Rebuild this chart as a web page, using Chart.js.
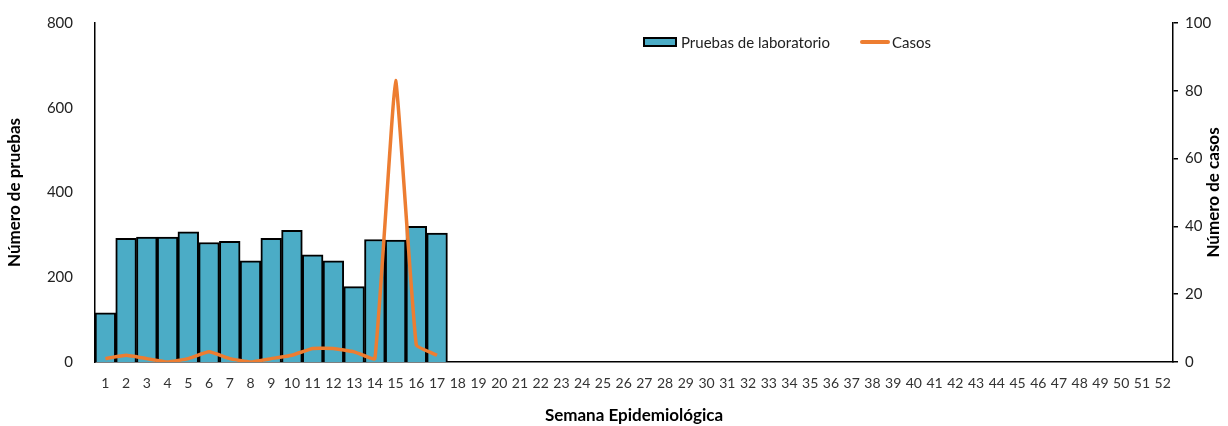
<!DOCTYPE html>
<html>
<head>
<meta charset="utf-8">
<script src="https://cdn.jsdelivr.net/npm/chart.js@4"></script>
<style>
  body { margin: 0; background: #fff; }
  #wrap { position: relative; width: 1228px; height: 426px; }
  #legend { position: absolute; top: 33px; left: 643px; font-family: Lato, "Open Sans", sans-serif; font-size: 15px; color: #222; display: flex; align-items: center; }
  .sw-bar { display: inline-block; width: 34px; height: 10px; background: #4BACC6; border: 2px solid #000; box-sizing: border-box; margin-right: 4px; }
  .sw-line { display: inline-block; width: 30px; height: 4px; background: #ED7D31; margin: 0 2px 0 30px; border-radius: 2px; }
</style>
</head>
<body>
<div id="wrap">
  <canvas id="chart" width="1228" height="426"></canvas>
  <div id="legend"><span class="sw-bar"></span>Pruebas de laboratorio<span class="sw-line"></span>Casos</div>
</div>
<script>
const semanas = Array.from({ length: 52 }, (_, i) => String(i + 1));
const pruebas = [116, 292, 295, 295, 307, 282, 285, 239, 292, 311, 253, 239, 178, 289, 288, 320, 304];
const casos = [1, 2, 1, 0, 1, 3, 1, 0, 1, 2, 4, 4, 3, 1, 83, 5, 2];

const fuente = 'Lato, "Open Sans", sans-serif';

// titulo del eje derecho leido de abajo hacia arriba, como en Excel
const tituloDerecho = {
  id: 'tituloDerecho',
  afterDraw(chart) {
    const c = chart.ctx;
    const area = chart.chartArea;
    c.save();
    c.translate(1214, (area.top + area.bottom) / 2);
    c.rotate(-Math.PI / 2);
    c.font = 'bold 17px ' + fuente;
    c.fillStyle = '#000';
    c.textAlign = 'center';
    c.textBaseline = 'middle';
    c.fillText('Número de casos', 0, 0);
    c.restore();
  }
};

var ctx = document.getElementById('chart').getContext('2d');
var chart = new Chart(ctx, {
  data: {
    labels: semanas,
    datasets: [{
      type: 'line',
      label: 'Casos',
      data: casos,
      yAxisID: 'y1',
      borderColor: '#ED7D31',
      borderWidth: 3.5,
      pointRadius: 0,
      tension: 0.1,
      order: 0
    }, {
      type: 'bar',
      label: 'Pruebas de laboratorio',
      data: pruebas,
      yAxisID: 'y',
      backgroundColor: '#4BACC6',
      borderColor: '#000',
      borderWidth: 2,
      barPercentage: 1,
      categoryPercentage: 1,
      order: 1
    }]
  },
  options: {
    responsive: false,
    animation: false,
    layout: { padding: { top: 20 } },
    plugins: {
      legend: { display: false },
      tooltip: { enabled: false }
    },
    scales: {
      x: {
        grid: { display: false },
        border: { color: '#000', width: 1.5 },
        ticks: { font: { family: fuente, size: 14 }, color: '#333', maxRotation: 0, autoSkip: false, padding: 5 },
        title: { display: true, text: 'Semana Epidemiológica', font: { family: fuente, size: 17, weight: 'bold' }, color: '#000', padding: { top: 22, bottom: 0 } },
        afterFit: s => { s.height = 64; }
      },
      y: {
        position: 'left',
        min: 0,
        max: 800,
        grid: { display: false },
        border: { color: '#000', width: 1.5 },
        ticks: { stepSize: 200, font: { family: fuente, size: 15 }, color: '#222', padding: 14 },
        title: { display: true, text: 'Número de pruebas', font: { family: fuente, size: 17, weight: 'bold' }, color: '#000' },
        afterFit: s => { s.width = 95; }
      },
      y1: {
        position: 'right',
        min: 0,
        max: 100,
        grid: { drawOnChartArea: false, color: '#000', tickLength: 5, lineWidth: 1.5 },
        border: { color: '#000', width: 1.5 },
        ticks: { stepSize: 20, font: { family: fuente, size: 15 }, color: '#222', padding: 7 },
        afterFit: s => { s.width = 55; }
      }
    }
  },
  plugins: [tituloDerecho]
});
</script>
</body>
</html>
